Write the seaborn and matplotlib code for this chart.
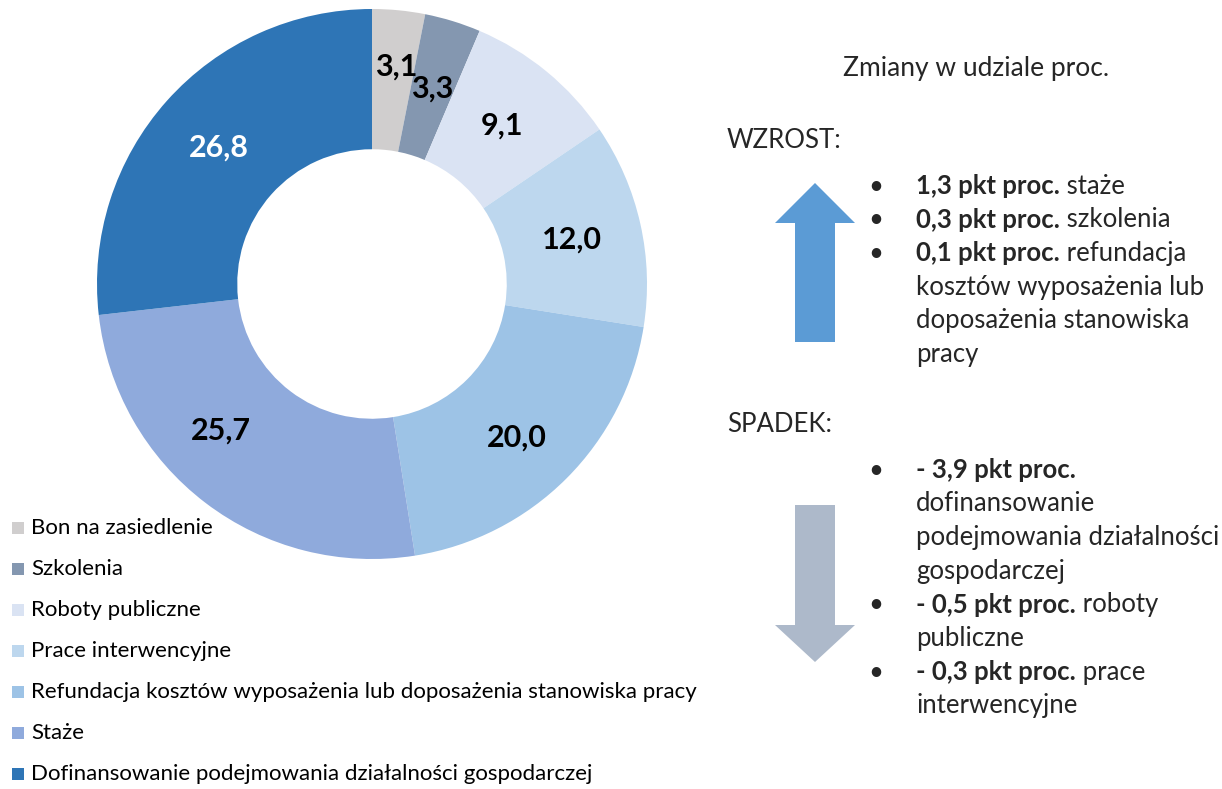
import numpy as np
import matplotlib
matplotlib.use("Agg")
import matplotlib.pyplot as plt
import seaborn as sns
from matplotlib.patches import Polygon, Rectangle

# Data
categories = ["Bon na zasiedlenie", "Szkolenia", "Roboty publiczne", "Prace interwencyjne",
              "Refundacja kosztów wyposażenia lub doposażenia stanowiska pracy",
              "Staże", "Dofinansowanie podejmowania działalności gospodarczej"]
shares = [3.1, 3.3, 9.1, 12.0, 20.0, 25.7, 26.8]
colors = ["#D0CECE", "#8497B0", "#DAE3F3", "#BDD7EE", "#9DC3E6", "#8FAADC", "#2E75B6"]
label_colors = ["black"] * 6 + ["white"]

up_items = [("1,3 pkt proc.", " staże"),
            ("0,3 pkt proc.", " szkolenia"),
            ("0,1 pkt proc.", " refundacja\nkosztów wyposażenia lub\ndoposażenia stanowiska\npracy")]
down_items = [("- 3,9 pkt proc.", "\ndofinansowanie\npodejmowania działalności\ngospodarczej"),
              ("- 0,5 pkt proc.", " roboty\npubliczne"),
              ("- 0,3 pkt proc.", " prace\ninterwencyjne")]

sns.set_theme(style="white")
plt.rcParams['font.family'] = ['Lato', 'DejaVu Sans']

W, H = 1222, 789
fig = plt.figure(figsize=(W / 100, H / 100), dpi=100)

# donut
cx, cy, R = 372, 284, 275
ax = fig.add_axes([(cx - R) / W, (H - cy - R) / H, 2 * R / W, 2 * R / H])
labels = [f"{v:.1f}".replace(".", ",") for v in shares]
wedges, texts = ax.pie(shares, colors=colors, startangle=90, counterclock=False,
                       labels=labels, labeldistance=0.745,
                       wedgeprops=dict(width=0.51, linewidth=0),
                       textprops=dict(fontsize=22, fontweight="bold", ha="center", va="center"))
for t, c in zip(texts, label_colors):
    t.set_color(c)

# label nudges to mimic the original placement
nudges = {0: (0.015, 0.05), 4: (0.0, -0.03), 5: (-0.1, 0.06)}
for i, (dx, dy) in nudges.items():
    x0, y0 = texts[i].get_position()
    texts[i].set_position((x0 + dx, y0 + dy))

ax.set_xlim(-1, 1)
ax.set_ylim(-1, 1)
ax.set_aspect("equal")
ax.axis("off")

# overlay in pixel coordinates
ov = fig.add_axes([0, 0, 1, 1])
ov.set_xlim(0, W)
ov.set_ylim(H, 0)
ov.axis("off")
ov.patch.set_alpha(0)

# legend
for i, (cat, col) in enumerate(zip(categories, colors)):
    y = 528 + i * 41
    ov.add_patch(Rectangle((12, y - 6), 12, 12, facecolor=col, edgecolor="none"))
    ov.text(31, y, cat, fontsize=16, va="center", ha="left", color="black")

fs = 18.5
ov.text(976, 68, "Zmiany w udziale proc.", fontsize=19, ha="center", va="center")
ov.text(727, 140, "WZROST:", fontsize=fs, ha="left", va="center")
ov.text(727, 424, "SPADEK:", fontsize=fs, ha="left", va="center")

# arrows
ov.add_patch(Polygon([(795, 342), (835, 342), (835, 223), (855, 223), (815, 183),
                      (775, 223), (795, 223)], closed=True, facecolor="#5B9BD5", edgecolor="none"))
ov.add_patch(Polygon([(795, 505), (835, 505), (835, 625), (855, 625), (815, 662),
                      (775, 625), (795, 625)], closed=True, facecolor="#ADB9CA", edgecolor="none"))

fig.canvas.draw()
renderer = fig.canvas.get_renderer()
line_h = 33.7


def bullet_block(items, y_start):
    y = y_start
    for bold, rest in items:
        ov.text(876, y, "•", fontsize=fs, ha="center", va="center")
        tb = ov.text(916, y, bold, fontsize=fs, fontweight="bold", ha="left", va="center")
        bb = tb.get_window_extent(renderer)
        lines = rest.split("\n")
        if lines[0]:
            ov.text(916 + bb.width, y, lines[0], fontsize=fs, ha="left", va="center")
        for ln in lines[1:]:
            y += line_h
            ov.text(916, y, ln, fontsize=fs, ha="left", va="center")
        y += line_h


bullet_block(up_items, 186)
bullet_block(down_items, 470)

fig.savefig("out.png", dpi=100)
